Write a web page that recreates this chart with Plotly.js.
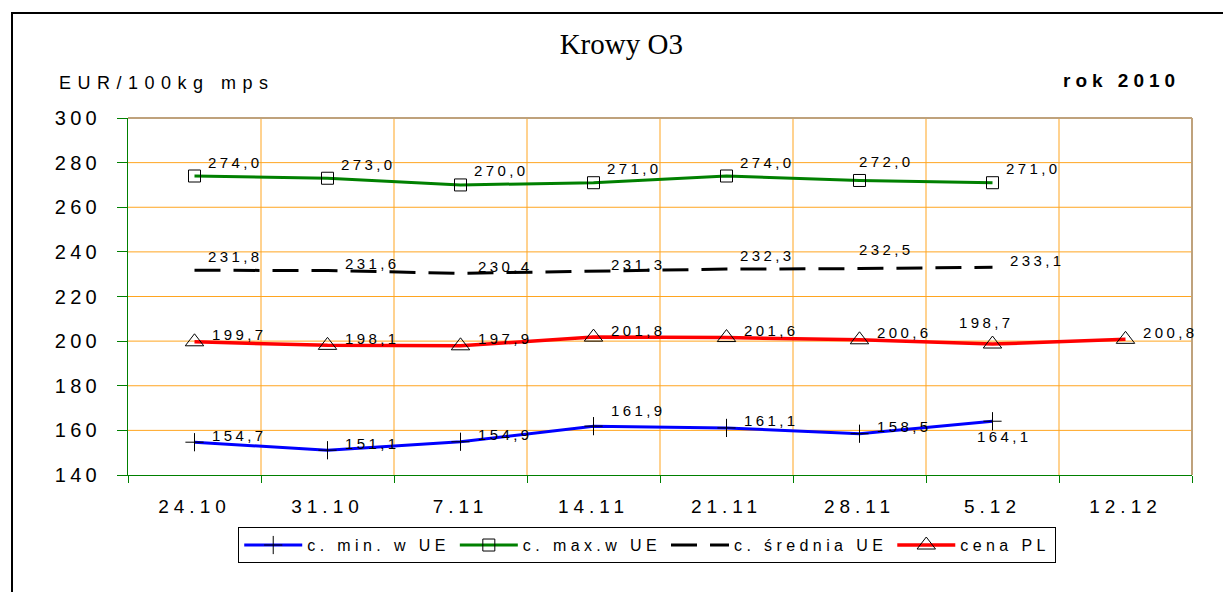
<!DOCTYPE html>
<html>
<head>
<meta charset="utf-8">
<script src="https://cdn.plot.ly/plotly-3.0.1.min.js"></script>
<style>
  html, body { margin:0; padding:0; background:#fff; }
  #wrap { position:relative; width:1223px; height:592px; overflow:hidden; }
  #chart { position:absolute; left:0; top:0; width:1223px; height:592px; }
  #frame { position:absolute; left:11px; top:12px; width:1300px; height:700px;
           border-left:2px solid #000; border-top:2px solid #000; pointer-events:none; }
  .xtick text { letter-spacing:5px; }
  .ytick text { letter-spacing:4.3px; }
  .legendtext { letter-spacing:4.4px; }
  .annotation-text { letter-spacing:3.4px; }
</style>
</head>
<body>
<div id="wrap">
  <div id="chart"></div>
  <div id="frame"></div>
</div>
<script>
// ---- data ----
const categories = ['24.10', '31.10', '7.11', '14.11', '21.11', '28.11', '5.12', '12.12'];
const minUE  = [154.7, 151.1, 154.9, 161.9, 161.1, 158.5, 164.1];
const maxUE  = [274.0, 273.0, 270.0, 271.0, 274.0, 272.0, 271.0];
const avgUE  = [231.8, 231.6, 230.4, 231.3, 232.3, 232.5, 233.1];
const cenaPL = [199.7, 198.1, 197.9, 201.8, 201.6, 200.6, 198.7, 200.8];
const yTicks = [140, 160, 180, 200, 220, 240, 260, 280, 300];
const seriesNames = ['c. min. w UE', 'c. max.w UE', 'c. średnia UE', 'cena PL'];
const chartTitle = 'Krowy O3';
const unitLabel = 'EUR/100kg mps';
const yearLabel = 'rok 2010';

// label placement codes per point (R right, T top-right, H high, U up-right, C centered above, B below)
const minPos = ['R', 'R', 'R', 'U', 'R', 'R', 'B'];
const maxPos = ['T', 'T', 'T', 'T', 'T', 'H', 'T'];
const avgPos = ['T', 'R', 'R', 'R', 'T', 'H', 'R'];
const plPos  = ['R', 'R', 'R', 'R', 'R', 'R', 'C', 'R'];

const place = {
  R: {xanchor: 'left',   dx: 15, dy: 7},
  T: {xanchor: 'left',   dx: 11, dy: 14},
  H: {xanchor: 'left',   dx: -3, dy: 19},
  U: {xanchor: 'left',   dx: 15, dy: 16},
  C: {xanchor: 'center', dx: -6, dy: 22},
  B: {xanchor: 'center', dx: 12, dy: -15}
};

const FONT = 'Liberation Sans, Arial, sans-serif';
const ORANGE = '#FFA520';
const GREEN = '#008000';
const TAN = '#BFA27C';

const cats = n => categories.slice(0, n);

const traces = [
  {
    x: cats(minUE.length), y: minUE, name: seriesNames[0], type: 'scatter', mode: 'lines+markers',
    line: {color: '#0000FF', width: 3},
    marker: {symbol: 'cross-thin-open', size: 13, color: '#000', line: {color: '#000', width: 1}}
  },
  {
    x: cats(maxUE.length), y: maxUE, name: seriesNames[1], type: 'scatter', mode: 'lines+markers',
    line: {color: GREEN, width: 3},
    marker: {symbol: 'square-open', size: 12, color: '#000', line: {color: '#000', width: 1}}
  },
  {
    x: cats(avgUE.length), y: avgUE, name: seriesNames[2], type: 'scatter', mode: 'lines',
    line: {color: '#000', width: 3, dash: '26px,13px'}
  },
  {
    x: cats(cenaPL.length), y: cenaPL, name: seriesNames[3], type: 'scatter', mode: 'lines+markers',
    line: {color: '#FF0000', width: 3.5},
    marker: {symbol: 'triangle-up-open', size: 16, color: '#000', line: {color: '#000', width: 1}}
  }
];

const fmt = v => v.toFixed(1).replace('.', ',');

const annotations = [
  {xref: 'paper', yref: 'paper', x: -0.0667, y: 1.098, xanchor: 'left', yanchor: 'middle',
   text: '<span style="letter-spacing:6.5px">' + unitLabel + '</span>', showarrow: false,
   font: {family: FONT, size: 18, color: '#000'}},
  {xref: 'paper', yref: 'paper', x: 0.9905, y: 1.104, xanchor: 'right', yanchor: 'middle',
   text: '<b><span style="letter-spacing:5px">' + yearLabel + '</span></b>', showarrow: false,
   font: {family: FONT, size: 19, color: '#000'}}
];

function addLabels(vals, pos) {
  vals.forEach((v, i) => {
    const p = place[pos[i]];
    annotations.push({
      xref: 'x', yref: 'y', x: i, y: v, text: fmt(v), showarrow: false,
      xanchor: p.xanchor, yanchor: 'middle', xshift: p.dx, yshift: p.dy,
      font: {family: FONT, size: 15, color: '#000'}
    });
  });
}
addLabels(minUE, minPos);
addLabels(maxUE, maxPos);
addLabels(avgUE, avgPos);
addLabels(cenaPL, plPos);

// grid lines: vertical at category boundaries, horizontal at y ticks
const shapes = [];
for (let i = 1; i < categories.length; i++) {
  shapes.push({type: 'line', layer: 'below', xref: 'x', yref: 'paper', x0: i - 0.5, x1: i - 0.5, y0: 0, y1: 1,
               line: {color: ORANGE, width: 1}});
}
yTicks.slice(1, -1).forEach(t => {
  shapes.push({type: 'line', layer: 'below', xref: 'paper', yref: 'y', x0: 0, x1: 1, y0: t, y1: t,
               line: {color: ORANGE, width: 1}});
});
shapes.push({type: 'line', xref: 'paper', yref: 'paper', x0: 0, x1: 1, y0: 1, y1: 1, line: {color: TAN, width: 2}});
shapes.push({type: 'line', xref: 'paper', yref: 'paper', x0: 1, x1: 1, y0: 0, y1: 1, line: {color: TAN, width: 2}});

const layout = {
  width: 1223, height: 592,
  margin: {l: 128, r: 31, t: 118, b: 117},
  paper_bgcolor: '#fff', plot_bgcolor: '#fff',
  title: {text: chartTitle, xref: 'container', yref: 'container', x: 0.508, y: 0.926,
          xanchor: 'center', yanchor: 'middle',
          font: {family: 'Liberation Serif, Times New Roman, serif', size: 29, color: '#000'}},
  xaxis: {
    type: 'category', categoryorder: 'array', categoryarray: categories,
    range: [-0.5, categories.length - 0.5], tickson: 'boundaries',
    showgrid: false,
    showline: true, linecolor: GREEN, linewidth: 1,
    ticks: 'outside', ticklen: 7, tickcolor: GREEN, tickwidth: 1,
    tickfont: {family: FONT, size: 19, color: '#000'}, ticklabelstandoff: 14,
    zeroline: false, fixedrange: true
  },
  yaxis: {
    range: [yTicks[0], yTicks[yTicks.length - 1]], tickmode: 'array', tickvals: yTicks,
    showgrid: false,
    showline: true, linecolor: GREEN, linewidth: 1,
    ticks: 'outside', ticklen: 10, tickcolor: GREEN, tickwidth: 1,
    tickfont: {family: FONT, size: 20, color: '#000'}, ticklabelstandoff: 12,
    zeroline: false, fixedrange: true
  },
  shapes: shapes,
  showlegend: true,
  legend: {
    orientation: 'h', xref: 'paper', yref: 'paper', x: 0.488, y: -0.146, xanchor: 'center', yanchor: 'top',
    bgcolor: '#fff', bordercolor: '#000', borderwidth: 1,
    font: {family: FONT, size: 16, color: '#000'}, itemwidth: 58, traceorder: 'normal'
  },
  annotations: annotations
};

Plotly.newPlot('chart', traces, layout, {staticPlot: true, displayModeBar: false});
</script>
</body>
</html>
